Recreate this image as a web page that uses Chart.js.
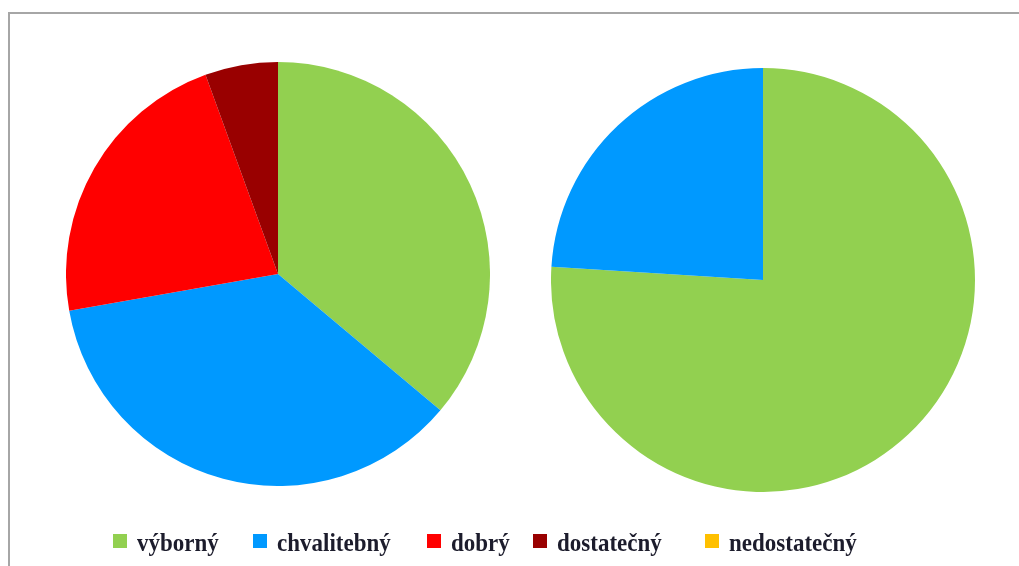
<!DOCTYPE html>
<html>
<head>
<meta charset="utf-8">
<style>
  html, body { margin: 0; padding: 0; background: #fff; }
  body { width: 1019px; height: 566px; position: relative; overflow: hidden; }
  #frame { position: absolute; left: 8px; top: 12px; width: 1030px; height: 580px;
           border: 2px solid #a6a6a6; box-sizing: border-box; }
  .pie { position: absolute; width: 424px; height: 424px; }
  #legend { position: absolute; left: 0; top: 524px; }
</style>
<script src="https://cdn.jsdelivr.net/npm/chart.js@4"></script>
</head>
<body>
<div id="frame"></div>
<div class="pie" style="left:66px; top:62px;"><canvas id="pieA"></canvas></div>
<div class="pie" style="left:551px; top:68px;"><canvas id="pieB"></canvas></div>
<canvas id="legend" width="1019" height="40"></canvas>
<script>
// Grade categories and their colours
const grades = ["výborný", "chvalitebný", "dobrý", "dostatečný", "nedostatečný"];
const gradeColors = ["#92D050", "#0099FF", "#FF0000", "#990000", "#FFC000"];

// Counts per grade for each class
const classA = [13, 13, 8, 2, 0];
const classB = [19, 6, 0, 0, 0];

// Legend item left positions
const legendX = [113, 253, 427, 533, 705];

function makePie(id, values) {
  return new Chart(document.getElementById(id), {
    type: "pie",
    data: {
      labels: grades,
      datasets: [{ data: values, backgroundColor: gradeColors, borderWidth: 0 }]
    },
    options: {
      responsive: true,
      maintainAspectRatio: false,
      animation: false,
      layout: { padding: 0 },
      plugins: { legend: { display: false }, tooltip: { enabled: false } }
    }
  });
}

makePie("pieA", classA);
makePie("pieB", classB);

// Shared legend row under both pies
const ctx = document.getElementById("legend").getContext("2d");
const baseY = 27;
const stretchY = 1.1;
grades.forEach((g, i) => {
  const x = legendX[i];
  ctx.fillStyle = gradeColors[i];
  ctx.fillRect(x, 10, 14, 14);
  ctx.save();
  ctx.translate(x + 24, baseY);
  ctx.scale(1, stretchY);
  ctx.font = "bold 23px 'Liberation Serif'";
  ctx.textBaseline = "alphabetic";
  ctx.fillStyle = "#1c1c2c";
  ctx.fillText(g, 0, 0);
  ctx.restore();
});
</script>
</body>
</html>
